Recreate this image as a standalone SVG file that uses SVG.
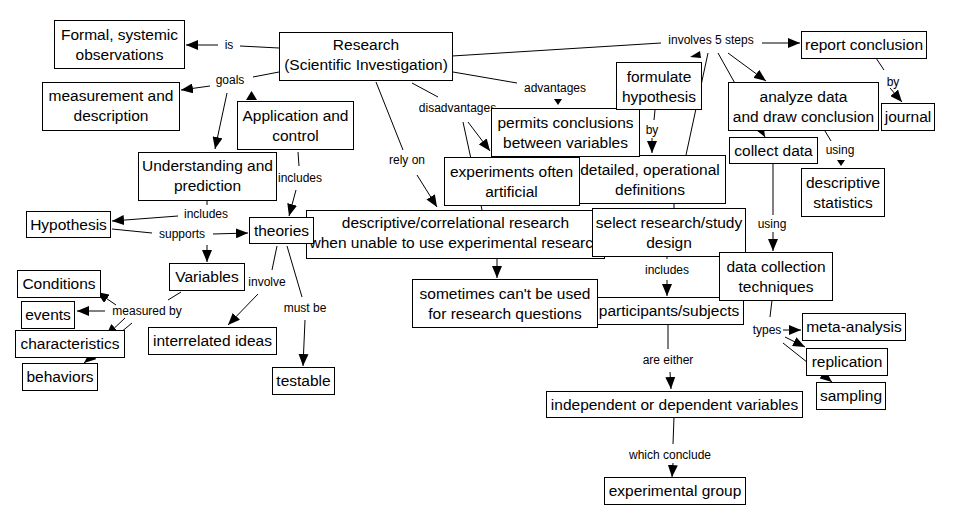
<svg xmlns="http://www.w3.org/2000/svg" width="956" height="524" viewBox="0 0 956 524">
<defs>
<marker id="ah" markerUnits="userSpaceOnUse" markerWidth="12" markerHeight="10" refX="12" refY="5" orient="auto">
<path d="M0,0 L12,5 L0,10 z" fill="#000"/>
</marker>
<style>
.c line{stroke:#000;stroke-width:1;fill:none}
.c line.a{marker-end:url(#ah)}
.c polygon{fill:#000}
.c text{font-family:"Liberation Sans",Arial,sans-serif;font-size:12px;text-anchor:middle;fill:#000}
.n rect{fill:#fff;stroke:#000;stroke-width:1}
.n text{font-family:"Liberation Sans",Arial,sans-serif;font-size:15.5px;text-anchor:middle;fill:#000}
</style>
</defs>
<rect width="956" height="524" fill="#fff"/>
<g id="connectors" class="c">
<line x1="279" y1="48" x2="240" y2="46"/>
<text x="229" y="49.3">is</text>
<line class="a" x1="218" y1="45" x2="186" y2="45"/>
<line x1="279" y1="72" x2="253" y2="77"/>
<text x="230" y="84.3">goals</text>
<line class="a" x1="210" y1="86" x2="181" y2="90"/>
<line class="a" x1="227" y1="93" x2="215" y2="149"/>
<polygon points="251.5,91 246,100 257,100"/>
<line x1="298" y1="152" x2="299" y2="166"/>
<text x="300" y="182.3">includes</text>
<line class="a" x1="296" y1="190" x2="289" y2="216"/>
<line x1="207" y1="201" x2="207" y2="205"/>
<text x="206" y="218">includes</text>
<line class="a" x1="178" y1="216" x2="112" y2="221"/>
<line x1="112" y1="229" x2="152" y2="233"/>
<text x="182" y="238.3">supports</text>
<line class="a" x1="213" y1="234" x2="248" y2="233"/>
<line class="a" x1="207" y1="245" x2="207" y2="262"/>
<line x1="277" y1="246" x2="272" y2="270"/>
<text x="267" y="286.3">involve</text>
<line class="a" x1="258" y1="294" x2="228" y2="325"/>
<line x1="287" y1="246" x2="302" y2="297"/>
<text x="305" y="312.3">must be</text>
<line class="a" x1="305" y1="320" x2="303" y2="366"/>
<line x1="181" y1="292" x2="168" y2="300"/>
<text x="147" y="315.3">measured by</text>
<line class="a" x1="105" y1="311" x2="77" y2="311"/>
<line class="a" x1="116" y1="305" x2="97" y2="292"/>
<line class="a" x1="125" y1="318" x2="106" y2="336"/>
<line class="a" x1="132" y1="323" x2="84" y2="363"/>
<line x1="376" y1="82" x2="403" y2="150"/>
<text x="407" y="164.3">rely on</text>
<line class="a" x1="417" y1="175" x2="437" y2="207"/>
<line x1="412" y1="83" x2="438" y2="97"/>
<text x="457.5" y="112.3">disadvantages</text>
<line x1="463" y1="122" x2="482" y2="210"/>
<line class="a" x1="468" y1="122" x2="490" y2="151"/>
<line x1="453" y1="72" x2="517" y2="83"/>
<text x="555" y="92.3">advantages</text>
<polygon points="554,99 562,99 558,105"/>
<line x1="452" y1="56" x2="661" y2="43"/>
<text x="711" y="44.3">involves 5 steps</text>
<line class="a" x1="762" y1="43" x2="800" y2="43"/>
<polygon points="700,51 690,57 701,58"/>
<line x1="708" y1="53" x2="686" y2="155"/>
<line class="a" x1="718" y1="53" x2="765" y2="137"/>
<line class="a" x1="728" y1="53" x2="766" y2="81"/>
<line x1="655" y1="110" x2="654" y2="120"/>
<text x="652" y="134.3">by</text>
<line class="a" x1="652" y1="138" x2="652" y2="153"/>
<line x1="674" y1="203" x2="674" y2="208"/>
<line x1="667" y1="256" x2="667" y2="259"/>
<text x="667" y="274.3">includes</text>
<line class="a" x1="667" y1="280" x2="667" y2="296"/>
<line x1="668" y1="324" x2="668" y2="349"/>
<text x="668" y="364.3">are either</text>
<line class="a" x1="670" y1="372" x2="671" y2="389"/>
<line x1="674" y1="417" x2="673" y2="444"/>
<text x="670" y="459.3">which conclude</text>
<line class="a" x1="673" y1="463" x2="672" y2="477"/>
<line x1="773" y1="163" x2="773" y2="215"/>
<text x="772" y="228.3">using</text>
<line class="a" x1="773" y1="232" x2="773" y2="251"/>
<line x1="825" y1="131" x2="831" y2="141"/>
<text x="840" y="154.3">using</text>
<polygon points="837,160 845,160 841,166"/>
<line x1="876" y1="58" x2="884" y2="70"/>
<text x="893" y="86.3">by</text>
<line class="a" x1="890" y1="88" x2="902" y2="102"/>
<line x1="772" y1="300" x2="770" y2="317"/>
<text x="767" y="334.3">types</text>
<line class="a" x1="783" y1="330" x2="801" y2="330"/>
<line class="a" x1="785" y1="337" x2="805" y2="347"/>
<line class="a" x1="783" y1="343" x2="832" y2="382"/>
<line class="a" x1="497" y1="258" x2="497" y2="278"/>
</g>
<g id="formal" class="n"><rect x="54.5" y="20.5" width="130" height="48"/><text x="119.5" y="39.5">Formal, systemic</text><text x="119.5" y="59.5">observations</text></g>
<g id="research" class="n"><rect x="279.5" y="32.5" width="173" height="48"/><text x="366" y="49.5">Research</text><text x="366" y="69.5">(Scientific Investigation)</text></g>
<g id="measurement" class="n"><rect x="42.5" y="82.5" width="137" height="48"/><text x="111" y="100.5">measurement and</text><text x="111" y="120.5">description</text></g>
<g id="application" class="n"><rect x="237.5" y="101.5" width="116" height="48"/><text x="295.5" y="120.5">Application and</text><text x="295.5" y="140.5">control</text></g>
<g id="understanding" class="n"><rect x="138.5" y="152.5" width="138" height="48"/><text x="207.5" y="170.5">Understanding and</text><text x="207.5" y="190.5">prediction</text></g>
<g id="hypothesis" class="n"><rect x="26.5" y="211.5" width="84" height="26"/><text x="68.5" y="229.5">Hypothesis</text></g>
<g id="descriptive" class="n"><rect x="306.5" y="210.5" width="298" height="48"/><text x="455.5" y="228">descriptive/correlational research</text><text x="455.5" y="247.5">when unable to use experimental research</text></g>
<g id="theories" class="n"><rect x="249.5" y="217.5" width="64" height="26"/><text x="281.5" y="235.5">theories</text></g>
<g id="variables" class="n"><rect x="169.5" y="263.5" width="75" height="27"/><text x="207" y="282">Variables</text></g>
<g id="conditions" class="n"><rect x="17.5" y="270.5" width="83" height="27"/><text x="59" y="289">Conditions</text></g>
<g id="events" class="n"><rect x="21.5" y="301.5" width="53" height="27"/><text x="48" y="320">events</text></g>
<g id="characteristics" class="n"><rect x="15.5" y="330.5" width="109" height="27"/><text x="70" y="349">characteristics</text></g>
<g id="behaviors" class="n"><rect x="22.5" y="363.5" width="75" height="27"/><text x="60" y="382">behaviors</text></g>
<g id="interrelated" class="n"><rect x="148.5" y="327.5" width="128" height="27"/><text x="212.5" y="346">interrelated ideas</text></g>
<g id="testable" class="n"><rect x="272.5" y="367.5" width="62" height="27"/><text x="303.5" y="386">testable</text></g>
<g id="detailed" class="n"><rect x="575.5" y="155.5" width="150" height="48"/><text x="650" y="174.5">detailed, operational</text><text x="650" y="194.5">definitions</text></g>
<g id="experiments" class="n"><rect x="444.5" y="157.5" width="135" height="48"/><text x="511.5" y="176.5">experiments often</text><text x="511.5" y="196.5">artificial</text></g>
<g id="permits" class="n"><rect x="491.5" y="108.5" width="148" height="48"/><text x="565.5" y="127.5">permits conclusions</text><text x="565.5" y="147.5">between variables</text></g>
<g id="formulate" class="n"><rect x="616.5" y="62.5" width="85" height="47"/><text x="659" y="81.5">formulate</text><text x="659" y="101.5">hypothesis</text></g>
<g id="report" class="n"><rect x="801.5" y="31.5" width="125" height="27"/><text x="864" y="50">report conclusion</text></g>
<g id="analyze" class="n"><rect x="728.5" y="82.5" width="150" height="48"/><text x="803.5" y="101.5">analyze data</text><text x="803.5" y="121.5">and draw conclusion</text></g>
<g id="journal" class="n"><rect x="881.5" y="103.5" width="53" height="27"/><text x="908" y="122">journal</text></g>
<g id="collect" class="n"><rect x="729.5" y="137.5" width="88" height="26"/><text x="773.5" y="155.5">collect data</text></g>
<g id="descstats" class="n"><rect x="801.5" y="168.5" width="83" height="48"/><text x="843" y="187.5">descriptive</text><text x="843" y="207.5">statistics</text></g>
<g id="select" class="n"><rect x="592.5" y="208.5" width="153" height="48"/><text x="669" y="227.5">select research/study</text><text x="669" y="247.5">design</text></g>
<g id="participants" class="n"><rect x="594.5" y="297.5" width="149" height="27"/><text x="669" y="316">participants/subjects</text></g>
<g id="sometimes" class="n"><rect x="412.5" y="279.5" width="185" height="48"/><text x="505" y="298.5">sometimes can't be used</text><text x="505" y="318.5">for research questions</text></g>
<g id="datacollection" class="n"><rect x="719.5" y="252.5" width="113" height="48"/><text x="776" y="271.5">data collection</text><text x="776" y="291.5">techniques</text></g>
<g id="meta" class="n"><rect x="802.5" y="313.5" width="103" height="27"/><text x="854" y="332">meta-analysis</text></g>
<g id="replication" class="n"><rect x="806.5" y="348.5" width="81" height="27"/><text x="847" y="367">replication</text></g>
<g id="sampling" class="n"><rect x="816.5" y="382.5" width="69" height="27"/><text x="851" y="401">sampling</text></g>
<g id="independent" class="n"><rect x="546.5" y="391.5" width="256" height="26"/><text x="674.5" y="409.5">independent or dependent variables</text></g>
<g id="experimental" class="n"><rect x="604.5" y="477.5" width="141" height="27"/><text x="675" y="496">experimental group</text></g>
</svg>
